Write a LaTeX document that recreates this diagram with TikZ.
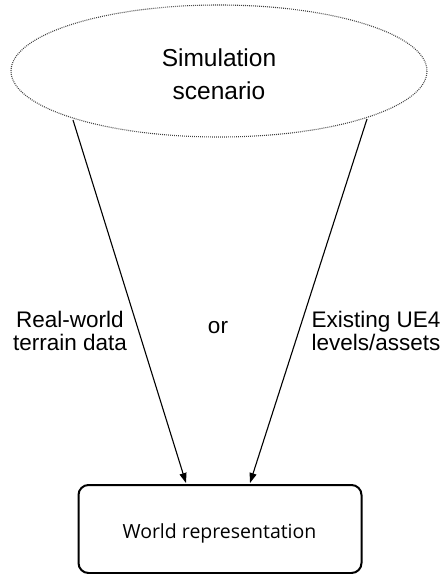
\documentclass[tikz,border=0pt]{standalone}
\usepackage{fontspec}
\setmainfont{Liberation Sans}
\newfontfamily\boxfont{Open Sans}
\usetikzlibrary{arrows.meta}
\tikzset{
  scenario/.style={draw=black!75, line width=1.1pt, dash pattern=on 0.9pt off 1.1pt},
  flow/.style={line width=1.1pt, -{Triangle[length=10pt, width=7pt]}},
  worldbox/.style={draw, line width=2pt, rounded corners=10pt},
  lbl/.style={font=\fontsize{22.5}{23.5}\selectfont, align=center, inner sep=0pt},
}
\begin{document}
\begin{tikzpicture}[x=1pt, y=-1pt]
\useasboundingbox (0,0) rectangle (440,574);
\begin{scope}
\clip (0,0) rectangle (440,574);
% scenario ellipse
\draw[scenario] (219,71) ellipse [x radius=208, y radius=66];
\node[font=\fontsize{24.5}{33}\selectfont, align=center, inner sep=0pt] (scen) at (219,74) {Simulation\\scenario};
% world representation box (bottom edge runs off the page)
\draw[worldbox] (78.5,485) rectangle (361.5,573);
\node[font=\boxfont\fontsize{19.5}{22}\selectfont, inner sep=0pt] (world) at (219.5,533) {World representation};
\coordinate (lstart) at (73,120);
\coordinate (rstart) at (367,119);
\coordinate (lend) at (186,483);
\coordinate (rend) at (250,483);
\draw[flow] (lstart) -- (lend);
\draw[flow] (rstart) -- (rend);
% path labels
\node[lbl] (real) at (70,331) {Real-world\\terrain data};
\node[lbl] (or) at (218,328) {or};
\node[lbl] (exist) at (376,331) {Existing UE4\\levels/assets};
\end{scope}
\end{tikzpicture}
\end{document}
